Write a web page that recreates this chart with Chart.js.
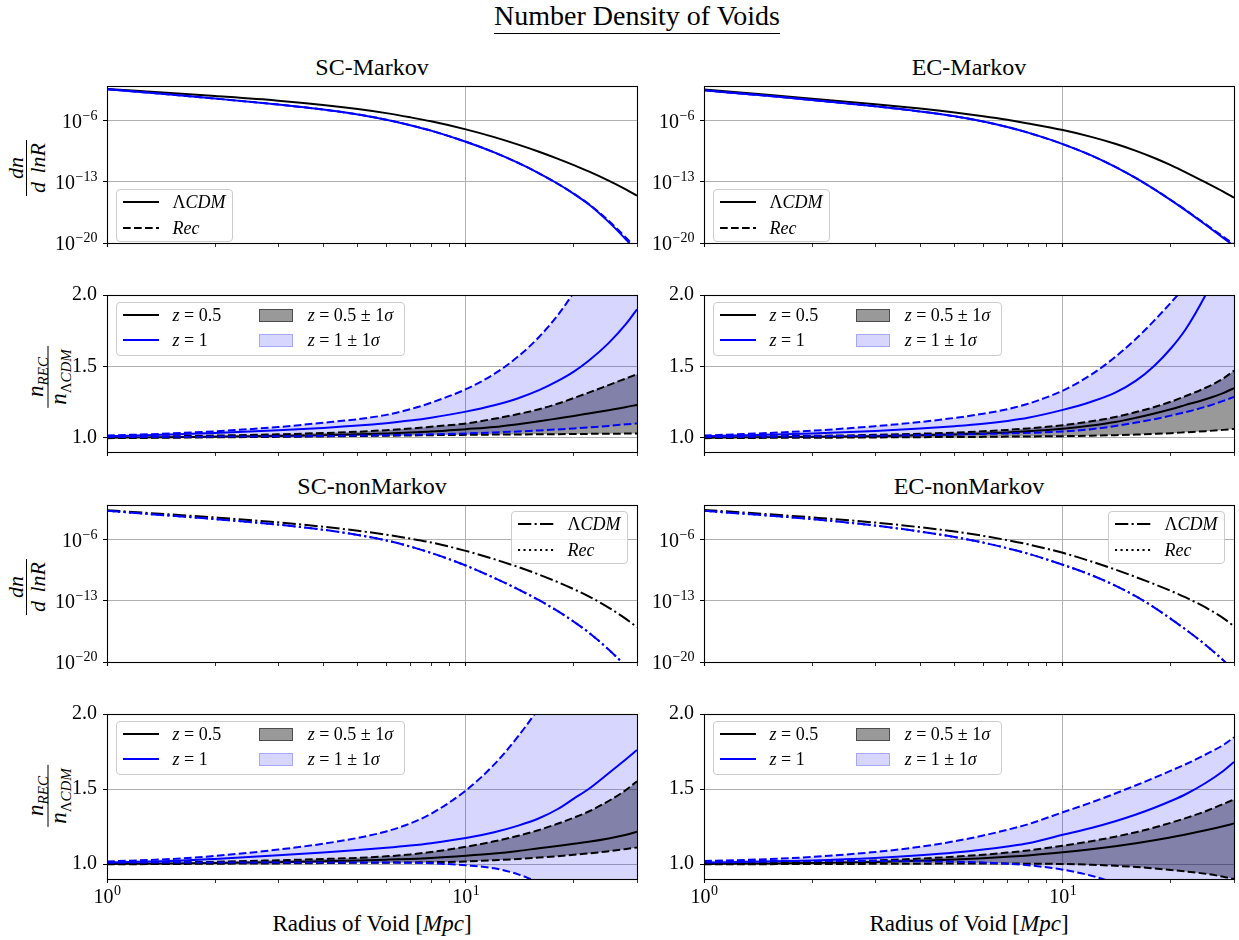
<!DOCTYPE html>
<html lang="en">
<head>
<meta charset="utf-8">
<title>Number Density of Voids</title>
<script src="https://cdn.jsdelivr.net/npm/chart.js@4.4.1/dist/chart.umd.min.js"></script>
<style>
    html, body { margin: 0; padding: 0; background: #ffffff; }
    #figure {
        position: relative; width: 1239px; height: 940px; overflow: hidden;
        font-family: "Liberation Serif", "DejaVu Serif", serif; color: #000;
    }
    #figure canvas { position: absolute; }
    .text { position: absolute; white-space: nowrap; }
    #suptitle { font-size: 28px; line-height: 28px; padding-bottom: 3px; border-bottom: 1.3px solid #000; transform: translateX(-50%); }
    .subtitle { font-size: 24px; line-height: 24px; transform: translateX(-50%); }
    .xlabel { font-size: 23px; line-height: 23px; transform: translateX(-50%); }
    .ylabel { font-size: 22px; transform: translate(-50%, -50%) rotate(-90deg); }
    .frac { display: flex; flex-direction: column; align-items: center; line-height: 20px; }
    .frac .den { border-top: 1.2px solid #000; padding: 1px 3px 0; }
    .frac.dn .den { word-spacing: 3px; }
    .frac.ratio { font-size: 23px; line-height: 17px; }
    .frac.ratio .num { padding-bottom: 4px; }
    .frac.ratio .den { padding-top: 1px; padding-bottom: 3px; }
    .frac sub { font-size: 15px; vertical-align: -5px; line-height: 0; }
    .legend { position: absolute; box-sizing: border-box; border: 1px solid #cccccc; border-radius: 4px; background: rgba(255,255,255,0.8); font-size: 18px; }
    .legend .key, .legend .patch, .legend .entry { position: absolute; }
    .legend .patch { width: 34px; height: 13px; box-sizing: border-box; border: 1px solid; }
    .legend .entry { line-height: 22px; white-space: nowrap; }
</style>
</head>
<body>
<div id="figure">
    <div id="suptitle" class="text" style="left:637px;top:2px">Number Density of Voids</div>
    <div class="text subtitle" style="left:372px;top:55px">SC-Markov</div>
    <div class="text subtitle" style="left:969px;top:55px">EC-Markov</div>
    <div class="text subtitle" style="left:372px;top:474px">SC-nonMarkov</div>
    <div class="text subtitle" style="left:969px;top:474px">EC-nonMarkov</div>
    <div class="text xlabel" style="left:372px;top:912px">Radius of Void [<i>Mpc</i>]</div>
    <div class="text xlabel" style="left:969px;top:912px">Radius of Void [<i>Mpc</i>]</div>
    <div class="text ylabel" style="left:27px;top:168px"><div class="frac dn"><span><i>dn</i></span><span class="den"><i>d lnR</i></span></div></div>
    <div class="text ylabel" style="left:27px;top:587px"><div class="frac dn"><span><i>dn</i></span><span class="den"><i>d lnR</i></span></div></div>
    <div class="text ylabel" style="left:48px;top:377px"><div class="frac ratio"><span class="num"><i>n</i><sub><i>REC</i></sub></span><span class="den"><i>n</i><sub>Λ<i>CDM</i></sub></span></div></div>
    <div class="text ylabel" style="left:48px;top:796px"><div class="frac ratio"><span class="num"><i>n</i><sub><i>REC</i></sub></span><span class="den"><i>n</i><sub>Λ<i>CDM</i></sub></span></div></div>
</div>
<script>
// Radius of void (Mpc), shared by every curve
const radius = [1, 1.5, 2, 3, 4, 5, 6, 7, 8, 10, 12, 14, 16, 18, 20, 22, 25, 28, 30];

// Ticks and their labels (power labels are [value, exponent])
const radiusTicks = [1, 2, 3, 4, 5, 6, 7, 8, 9, 10, 20, 30];
const radiusPowerTicks = [[1, '0'], [10, '1']];
const densityTicks = [1e-20, 1e-13, 1e-6];
const densityPowerTicks = [[1e-20, '\u221220'], [1e-13, '\u221213'], [1e-6, '\u22126']];
const ratioTicks = [1.0, 1.5, 2.0];
const ratioTickLabels = ['1.0', '1.5', '2.0'];

// dn/dlnR, stored as log10, SC-Markov
const scMarkovLcdmZ05 = [-2.33, -2.81, -3.15, -3.68, -4.17, -4.64, -5.11, -5.59, -6.05, -6.97, -7.86, -8.72, -9.54, -10.33, -11.08, -11.79, -12.85, -13.88, -14.57];
const scMarkovLcdmZ1 = [-2.36, -2.98, -3.44, -4.13, -4.70, -5.26, -5.86, -6.49, -7.12, -8.39, -9.61, -10.82, -12.01, -13.18, -14.37, -15.56, -17.58, -19.64, -21.02];
const scMarkovRecZ1 = [-2.36, -2.98, -3.44, -4.13, -4.70, -5.26, -5.86, -6.49, -7.12, -8.39, -9.61, -10.82, -12.01, -13.18, -14.35, -15.52, -17.45, -19.42, -20.70];

// dn/dlnR, EC-Markov
const ecMarkovLcdmZ05 = [-2.41, -3.01, -3.45, -4.09, -4.59, -5.04, -5.47, -5.88, -6.29, -7.05, -7.83, -8.62, -9.44, -10.26, -11.08, -11.90, -13.06, -14.12, -14.81];
const ecMarkovLcdmZ1 = [-2.50, -3.13, -3.61, -4.33, -4.92, -5.48, -6.08, -6.70, -7.35, -8.66, -9.96, -11.27, -12.57, -13.85, -15.09, -16.26, -17.91, -19.41, -20.34];
const ecMarkovRecZ1 = [-2.50, -3.13, -3.61, -4.33, -4.92, -5.48, -6.08, -6.70, -7.35, -8.66, -9.96, -11.27, -12.57, -13.84, -15.07, -16.22, -17.84, -19.28, -20.15];

// dn/dlnR, SC-nonMarkov
const scNonMarkovLcdmZ05 = [-2.60, -3.08, -3.43, -3.99, -4.49, -4.95, -5.40, -5.85, -6.29, -7.26, -8.21, -9.11, -9.98, -10.82, -11.65, -12.47, -13.76, -15.08, -16.01];
const scNonMarkovLcdmZ1 = [-2.67, -3.22, -3.62, -4.25, -4.83, -5.43, -6.06, -6.76, -7.49, -8.94, -10.36, -11.67, -12.92, -14.14, -15.38, -16.61, -18.57, -20.53, -21.85];
const scNonMarkovRecZ1 = [-2.67, -3.22, -3.62, -4.25, -4.83, -5.43, -6.06, -6.76, -7.49, -8.94, -10.36, -11.67, -12.92, -14.14, -15.38, -16.61, -18.57, -20.53, -21.85];

// dn/dlnR, EC-nonMarkov
const ecNonMarkovLcdmZ05 = [-2.56, -3.05, -3.42, -4.01, -4.55, -5.05, -5.54, -6.03, -6.51, -7.48, -8.47, -9.40, -10.27, -11.08, -11.85, -12.60, -13.75, -14.97, -15.90];
const ecNonMarkovLcdmZ1 = [-2.67, -3.20, -3.62, -4.36, -5.04, -5.68, -6.31, -6.95, -7.58, -8.85, -10.03, -11.24, -12.48, -13.76, -15.05, -16.28, -18.04, -19.80, -21.00];
const ecNonMarkovRecZ1 = [-2.67, -3.20, -3.62, -4.36, -5.04, -5.68, -6.31, -6.95, -7.58, -8.85, -10.03, -11.24, -12.48, -13.76, -15.05, -16.28, -18.04, -19.80, -21.00];

// n_REC / n_LCDM, SC-Markov
const scMarkovZ05 = [1.000, 1.003, 1.006, 1.012, 1.018, 1.024, 1.030, 1.036, 1.043, 1.060, 1.075, 1.095, 1.115, 1.135, 1.153, 1.170, 1.193, 1.215, 1.230];
const scMarkovZ05Hi = [1.005, 1.010, 1.015, 1.024, 1.033, 1.042, 1.053, 1.064, 1.077, 1.100, 1.133, 1.166, 1.200, 1.238, 1.278, 1.316, 1.369, 1.416, 1.445];
const scMarkovZ05Lo = [0.997, 1.000, 1.003, 1.006, 1.009, 1.012, 1.014, 1.016, 1.018, 1.020, 1.022, 1.023, 1.024, 1.025, 1.026, 1.027, 1.028, 1.029, 1.030];
const scMarkovZ1 = [1.010, 1.022, 1.033, 1.052, 1.069, 1.085, 1.102, 1.120, 1.140, 1.183, 1.228, 1.277, 1.333, 1.396, 1.463, 1.539, 1.663, 1.799, 1.900];
const scMarkovZ1Hi = [1.015, 1.030, 1.045, 1.075, 1.105, 1.130, 1.160, 1.200, 1.245, 1.340, 1.447, 1.570, 1.706, 1.855, 2.019, 2.190, 2.480, 2.790, 3.010];
const scMarkovZ1Lo = [1.005, 1.006, 1.008, 1.010, 1.012, 1.015, 1.018, 1.021, 1.024, 1.030, 1.037, 1.044, 1.051, 1.058, 1.065, 1.072, 1.083, 1.094, 1.100];

// n_REC / n_LCDM, EC-Markov
const ecMarkovZ05 = [1.000, 1.003, 1.006, 1.011, 1.017, 1.023, 1.030, 1.037, 1.045, 1.063, 1.085, 1.110, 1.140, 1.170, 1.200, 1.230, 1.270, 1.313, 1.348];
const ecMarkovZ05Hi = [1.005, 1.010, 1.013, 1.020, 1.028, 1.036, 1.045, 1.055, 1.065, 1.088, 1.115, 1.145, 1.180, 1.215, 1.252, 1.292, 1.350, 1.415, 1.470];
const ecMarkovZ05Lo = [0.997, 0.999, 1.000, 1.002, 1.004, 1.005, 1.006, 1.008, 1.009, 1.011, 1.014, 1.018, 1.022, 1.027, 1.032, 1.038, 1.046, 1.055, 1.062];
const ecMarkovZ1 = [1.010, 1.021, 1.030, 1.048, 1.064, 1.081, 1.098, 1.118, 1.140, 1.195, 1.252, 1.316, 1.400, 1.505, 1.625, 1.760, 2.000, 2.250, 2.420];
const ecMarkovZ1Hi = [1.015, 1.033, 1.049, 1.081, 1.110, 1.139, 1.168, 1.200, 1.238, 1.330, 1.442, 1.566, 1.694, 1.822, 1.946, 2.065, 2.239, 2.400, 2.500];
const ecMarkovZ1Lo = [1.005, 1.007, 1.010, 1.014, 1.018, 1.022, 1.026, 1.030, 1.034, 1.044, 1.060, 1.082, 1.106, 1.130, 1.155, 1.179, 1.217, 1.258, 1.286];

// n_REC / n_LCDM, SC-nonMarkov
const scNonMarkovZ05 = [1.000, 1.003, 1.006, 1.012, 1.018, 1.024, 1.029, 1.034, 1.040, 1.055, 1.070, 1.087, 1.105, 1.120, 1.135, 1.148, 1.170, 1.195, 1.215];
const scNonMarkovZ05Hi = [1.005, 1.010, 1.015, 1.025, 1.033, 1.041, 1.051, 1.064, 1.080, 1.115, 1.151, 1.188, 1.227, 1.268, 1.309, 1.350, 1.420, 1.495, 1.552];
const scNonMarkovZ05Lo = [0.998, 1.000, 1.002, 1.004, 1.006, 1.008, 1.009, 1.010, 1.012, 1.017, 1.025, 1.033, 1.043, 1.052, 1.062, 1.070, 1.085, 1.100, 1.110];
const scNonMarkovZ1 = [1.010, 1.020, 1.034, 1.058, 1.077, 1.093, 1.108, 1.123, 1.139, 1.173, 1.212, 1.256, 1.305, 1.365, 1.436, 1.500, 1.605, 1.700, 1.760];
const scNonMarkovZ1Hi = [1.017, 1.033, 1.054, 1.096, 1.135, 1.174, 1.217, 1.271, 1.335, 1.490, 1.664, 1.852, 2.043, 2.232, 2.416, 2.592, 2.850, 3.090, 3.243];
const scNonMarkovZ1Lo = [1.010, 1.010, 1.010, 1.010, 1.010, 1.010, 1.010, 1.008, 1.005, 0.991, 0.971, 0.931, 0.873, 0.807, 0.733, 0.659, 0.547, 0.439, 0.370];

// n_REC / n_LCDM, EC-nonMarkov
const ecNonMarkovZ05 = [1.000, 1.003, 1.007, 1.014, 1.022, 1.030, 1.039, 1.048, 1.057, 1.078, 1.098, 1.118, 1.138, 1.158, 1.178, 1.197, 1.225, 1.252, 1.270];
const ecNonMarkovZ05Hi = [1.005, 1.009, 1.014, 1.024, 1.036, 1.049, 1.062, 1.076, 1.090, 1.122, 1.152, 1.182, 1.212, 1.243, 1.275, 1.306, 1.352, 1.400, 1.430];
const ecNonMarkovZ05Lo = [0.998, 0.999, 1.000, 1.001, 1.002, 1.003, 1.003, 1.003, 1.002, 1.000, 0.995, 0.988, 0.980, 0.970, 0.960, 0.950, 0.935, 0.915, 0.900];
const ecNonMarkovZ1 = [1.010, 1.016, 1.023, 1.040, 1.058, 1.076, 1.096, 1.117, 1.138, 1.195, 1.240, 1.285, 1.330, 1.375, 1.420, 1.465, 1.540, 1.620, 1.680];
const ecNonMarkovZ1Hi = [1.020, 1.032, 1.047, 1.080, 1.115, 1.152, 1.190, 1.228, 1.265, 1.345, 1.410, 1.470, 1.525, 1.575, 1.622, 1.665, 1.730, 1.793, 1.845];
const ecNonMarkovZ1Lo = [1.020, 1.020, 1.020, 1.020, 1.018, 1.015, 1.010, 1.002, 0.992, 0.962, 0.922, 0.872, 0.820, 0.762, 0.702, 0.642, 0.552, 0.462, 0.400];

// Styles
const BLACK = '#000000';
const BLUE = '#0000ff';
const GRID = '#b0b0b0';
const GREY_BAND = 'rgba(0, 0, 0, 0.4)';
const BLUE_BAND = 'rgba(0, 0, 255, 0.16)';
const DASHED = [7.7, 3.3];
const DASHDOT = [13.3, 3.3, 2.1, 3.3];
const DOTTED = [2.1, 3.4];
const SERIF = '"Liberation Serif", "DejaVu Serif", serif';

// Layout of the 4x2 grid
const colLeft = [107, 704];
const rowTop = [84, 293, 503, 712];
const plotW = 530;
const plotH = 167;
const AXIS_W = 100;
const PAD_T = 16;
const PAD_R = 12;

const figure = document.getElementById('figure');
Chart.defaults.font.family = SERIF;
Chart.defaults.color = '#000';

// Box around each axes, like matplotlib spines
const frame = {
    id: 'frame',
    afterDatasetsDraw(chart) {
        const { ctx, chartArea: a } = chart;
        ctx.save();
        ctx.strokeStyle = '#000';
        ctx.lineWidth = 1.1;
        ctx.strokeRect(a.left + 0.5, a.top + 0.5, a.right - a.left, a.bottom - a.top);
        ctx.restore();
    }
};

// Tick labels written as 10 with a raised exponent
const powerLabels = {
    id: 'powerLabels',
    afterDraw(chart, args, opts) {
        const { ctx, chartArea: a } = chart;
        const big = '20px ' + SERIF;
        const small = '14px ' + SERIF;
        const put = (x, base, exp, align) => {
            ctx.font = big;
            const w10 = ctx.measureText('10').width;
            ctx.font = small;
            const wExp = ctx.measureText(exp).width;
            const x0 = align === 'right' ? x - w10 - wExp : x - (w10 + wExp) / 2;
            ctx.font = big;
            ctx.fillText('10', x0, base);
            ctx.font = small;
            ctx.fillText(exp, x0 + w10 + 0.5, base - 8);
        };
        ctx.save();
        ctx.fillStyle = '#000';
        ctx.textAlign = 'left';
        ctx.textBaseline = 'alphabetic';
        (opts.y || []).forEach(([value, exp]) => {
            put(a.left - 10, chart.scales.y.getPixelForValue(value) + 7, exp, 'right');
        });
        (opts.x || []).forEach(([value, exp]) => {
            put(chart.scales.x.getPixelForValue(value), a.bottom + 24, exp, 'center');
        });
        ctx.restore();
    }
};

function curve(values, color, dash, extra) {
    return Object.assign({
        data: radius.map((r, i) => ({ x: r, y: values[i] })),
        borderColor: color,
        borderWidth: 2,
        borderDash: dash || [],
        pointRadius: 0,
        cubicInterpolationMode: 'monotone',
        fill: false,
        clip: 0
    }, extra || {});
}

const pow10 = logs => logs.map(v => Math.pow(10, v));

function radiusAxis(height) {
    return {
        type: 'logarithmic',
        min: 1,
        max: 30,
        afterBuildTicks: scale => { scale.ticks = radiusTicks.map(v => ({ value: v })); },
        afterFit: scale => { scale.height = height; },
        border: { display: false },
        grid: {
            color: c => (c.tick && c.tick.value === 10 ? GRID : 'rgba(0,0,0,0)'),
            lineWidth: 1,
            tickColor: '#000',
            tickLength: 4,
            tickWidth: c => (c.tick && (c.tick.value === 1 || c.tick.value === 10) ? 1.1 : 0.8)
        },
        ticks: { autoSkip: false, maxRotation: 0, padding: 4, font: { size: 20 }, callback: () => '' }
    };
}

function densityAxis() {
    return {
        type: 'logarithmic',
        min: 1e-20,
        max: 1e-2,
        afterBuildTicks: scale => { scale.ticks = densityTicks.map(v => ({ value: v })); },
        afterFit: scale => { scale.width = AXIS_W; },
        border: { display: false },
        grid: {
            color: c => (c.tick && c.tick.value > 1e-20 ? GRID : 'rgba(0,0,0,0)'),
            lineWidth: 1,
            tickColor: '#000',
            tickLength: 4
        },
        ticks: { padding: 6, font: { size: 20 }, callback: () => '' }
    };
}

function ratioAxis() {
    return {
        type: 'linear',
        min: 0.9,
        max: 2.0,
        afterBuildTicks: scale => { scale.ticks = ratioTicks.map(v => ({ value: v })); },
        afterFit: scale => { scale.width = AXIS_W; },
        border: { display: false },
        grid: {
            color: c => (c.tick && c.tick.value < 2 ? GRID : 'rgba(0,0,0,0)'),
            lineWidth: 1,
            tickColor: '#000',
            tickLength: 4
        },
        ticks: { padding: 6, font: { size: 20 }, callback: (v, i) => ratioTickLabels[i] }
    };
}

function ratioSet(z05, z05Lo, z05Hi, z1, z1Lo, z1Hi) {
    return [
        curve(z1Hi, BLUE, DASHED, { fill: '+1', backgroundColor: BLUE_BAND }),
        curve(z1Lo, BLUE, DASHED),
        curve(z1, BLUE),
        curve(z05Hi, BLACK, DASHED, { fill: '+1', backgroundColor: GREY_BAND }),
        curve(z05Lo, BLACK, DASHED),
        curve(z05, BLACK)
    ];
}

function addPanel(row, col, datasets, yAxis, yPowers) {
    const bottomRow = row === 3;
    const xHeight = bottomRow ? 40 : 10;
    const w = AXIS_W + plotW + PAD_R;
    const h = PAD_T + plotH + xHeight;
    const canvas = document.createElement('canvas');
    canvas.width = w;
    canvas.height = h;
    canvas.style.left = (colLeft[col] - AXIS_W) + 'px';
    canvas.style.top = (rowTop[row] - PAD_T) + 'px';
    canvas.style.width = w + 'px';
    canvas.style.height = h + 'px';
    figure.appendChild(canvas);

    new Chart(canvas.getContext('2d'), {
        type: 'line',
        data: { datasets: datasets },
        options: {
            responsive: false,
            animation: false,
            devicePixelRatio: 1,
            layout: { padding: { top: PAD_T, right: PAD_R, left: 0, bottom: 0 } },
            plugins: {
                legend: { display: false },
                tooltip: { enabled: false },
                filler: { drawTime: 'beforeDatasetsDraw' },
                powerLabels: { x: bottomRow ? radiusPowerTicks : [], y: yPowers || [] }
            },
            scales: { x: radiusAxis(xHeight), y: yAxis }
        },
        plugins: [frame, powerLabels]
    });
}

// Legend box drawn in html, entries placed like matplotlib
function addLegend(left, top, width, height, items) {
    const box = document.createElement('div');
    box.className = 'legend';
    box.style.cssText = `left:${left}px;top:${top}px;width:${width}px;height:${height}px`;
    items.forEach(it => {
        let key;
        if (it.patch) {
            key = `<div class="patch" style="left:${it.x}px;top:${it.y - 6.5}px;background:${it.patch};border-color:${it.edge}"></div>`;
        } else {
            key = `<svg class="key" style="left:${it.x}px;top:${it.y - 5}px" width="36" height="10">` +
                `<line x1="0" y1="5" x2="36" y2="5" stroke="${it.color}" stroke-width="2" stroke-dasharray="${(it.dash || []).join(' ') || 'none'}"/></svg>`;
        }
        box.insertAdjacentHTML('beforeend', key +
            `<div class="entry" style="left:${it.x + it.gap}px;top:${it.y - 11}px">${it.label}</div>`);
    });
    figure.appendChild(box);
}

function densityLegend(row, col, dashLcdm, dashRec) {
    const w = 117, h = 53;
    const left = row === 0 ? colLeft[col] + 9 : colLeft[col] + plotW - 9 - w;
    const top = row === 0 ? rowTop[row] + plotH - 9 - h : rowTop[row] + 8;
    addLegend(left, top, w, h, [
        { x: 6, y: 12.4, gap: 49.5, color: BLACK, dash: dashLcdm, label: 'Λ<i>CDM</i>' },
        { x: 6, y: 38, gap: 49.5, color: BLACK, dash: dashRec, label: '<i>Rec</i>' }
    ]);
}

function ratioLegend(row, col) {
    addLegend(colLeft[col] + 9, rowTop[row] + 8.5, 289, 54, [
        { x: 6, y: 12.6, gap: 49.5, color: BLACK, label: '<i>z</i> = 0.5' },
        { x: 6, y: 37.6, gap: 49.5, color: BLUE, label: '<i>z</i> = 1' },
        { x: 142.3, y: 12.6, gap: 48.4, patch: GREY_BAND, edge: 'rgba(0,0,0,0.5)', label: '<i>z</i> = 0.5 ± 1<i>σ</i>' },
        { x: 142.3, y: 37.6, gap: 48.4, patch: BLUE_BAND, edge: 'rgba(0,0,255,0.22)', label: '<i>z</i> = 1 ± 1<i>σ</i>' }
    ]);
}

// Row 1: number density, Markov
addPanel(0, 0, [
    curve(pow10(scMarkovRecZ1), BLUE, DASHED),
    curve(pow10(scMarkovLcdmZ1), BLUE),
    curve(pow10(scMarkovLcdmZ05), BLACK)
], densityAxis(), densityPowerTicks);
addPanel(0, 1, [
    curve(pow10(ecMarkovRecZ1), BLUE, DASHED),
    curve(pow10(ecMarkovLcdmZ1), BLUE),
    curve(pow10(ecMarkovLcdmZ05), BLACK)
], densityAxis(), densityPowerTicks);

// Row 2: ratios, Markov
addPanel(1, 0, ratioSet(scMarkovZ05, scMarkovZ05Lo, scMarkovZ05Hi, scMarkovZ1, scMarkovZ1Lo, scMarkovZ1Hi), ratioAxis());
addPanel(1, 1, ratioSet(ecMarkovZ05, ecMarkovZ05Lo, ecMarkovZ05Hi, ecMarkovZ1, ecMarkovZ1Lo, ecMarkovZ1Hi), ratioAxis());

// Row 3: number density, non-Markov
addPanel(2, 0, [
    curve(pow10(scNonMarkovRecZ1), BLUE, DOTTED),
    curve(pow10(scNonMarkovLcdmZ1), BLUE, DASHDOT),
    curve(pow10(scNonMarkovLcdmZ05), BLACK, DASHDOT)
], densityAxis(), densityPowerTicks);
addPanel(2, 1, [
    curve(pow10(ecNonMarkovRecZ1), BLUE, DOTTED),
    curve(pow10(ecNonMarkovLcdmZ1), BLUE, DASHDOT),
    curve(pow10(ecNonMarkovLcdmZ05), BLACK, DASHDOT)
], densityAxis(), densityPowerTicks);

// Row 4: ratios, non-Markov
addPanel(3, 0, ratioSet(scNonMarkovZ05, scNonMarkovZ05Lo, scNonMarkovZ05Hi, scNonMarkovZ1, scNonMarkovZ1Lo, scNonMarkovZ1Hi), ratioAxis());
addPanel(3, 1, ratioSet(ecNonMarkovZ05, ecNonMarkovZ05Lo, ecNonMarkovZ05Hi, ecNonMarkovZ1, ecNonMarkovZ1Lo, ecNonMarkovZ1Hi), ratioAxis());

// Legends
densityLegend(0, 0, [], DASHED);
densityLegend(0, 1, [], DASHED);
densityLegend(2, 0, DASHDOT, DOTTED);
densityLegend(2, 1, DASHDOT, DOTTED);
ratioLegend(1, 0);
ratioLegend(1, 1);
ratioLegend(3, 0);
ratioLegend(3, 1);
</script>
</body>
</html>
